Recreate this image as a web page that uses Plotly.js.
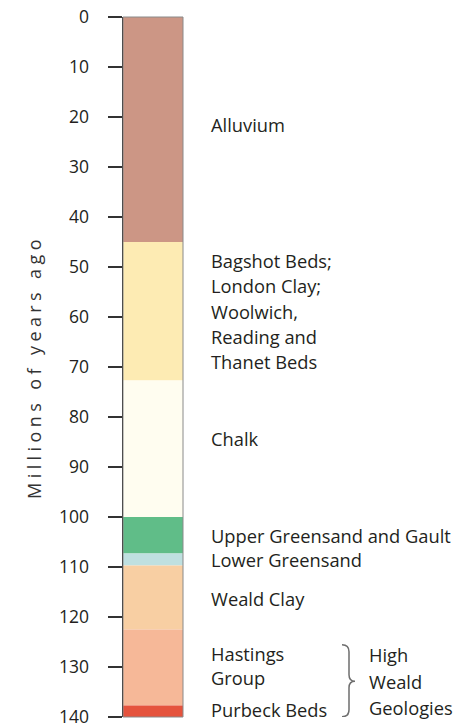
<!DOCTYPE html>
<html>
<head>
<meta charset="utf-8">
<script src="https://cdn.plot.ly/plotly-3.0.1.min.js"></script>
<style>
  html, body { margin: 0; padding: 0; background: #fff; }
  #chart { width: 460px; height: 728px; }
  .ytitle { letter-spacing: 4.4px; }
</style>
</head>
<body>
<div id="chart"></div>
<script>
// Geological layers (millions of years ago)
var layerNames  = ["Alluvium", "Bagshot Beds; London Clay; Woolwich, Reading and Thanet Beds", "Chalk",
                   "Upper Greensand and Gault", "Lower Greensand", "Weald Clay", "Hastings Group", "Purbeck Beds"];
var layerStart  = [0, 45, 72.7, 100, 107.3, 109.7, 122.5, 137.7];
var layerEnd    = [45, 72.7, 100, 107.3, 109.7, 122.5, 137.7, 140];
var layerColors = ["#cc9685", "#fdebb3", "#fffdf0", "#60bd88", "#bfe0e0", "#f8cfa3", "#f6b898", "#e5533d"];

var tickValues = [0, 10, 20, 30, 40, 50, 60, 70, 80, 90, 100, 110, 120, 130, 140];
var axisTitle = "Millions of years ago";

// label text lines
var labelLines = ["Alluvium",
                  "Bagshot Beds;", "London Clay;", "Woolwich,", "Reading and", "Thanet Beds",
                  "Chalk",
                  "Upper Greensand and Gault<br>Lower Greensand",
                  "Weald Clay",
                  "Hastings<br>Group",
                  "Purbeck Beds"];
var groupLines = ["High", "Weald", "Geologies"];

// ---- layout helpers (pixel placements) ----
var TOP = 17.3, PXPER = 5;
function pxToY(p) { return (p - TOP) / PXPER; }
var labelPx = [125, 261, 286, 311.5, 337, 362, 439, 548, 598.5, 666, 710];
var groupPx = [655, 681.5, 708];

var thickness = layerStart.map(function (s, i) { return layerEnd[i] - s; });

var trace = {
  type: "bar",
  x: layerStart.map(function () { return 0; }),
  y: thickness,
  base: layerStart,
  width: 1,
  marker: { color: layerColors, line: { width: 0 } },
  text: layerNames,
  hoverinfo: "text",
  textposition: "none"
};

var FONT = "Open Sans, Noto Sans, sans-serif";
var TXT = "#231f20";
var LSIZE = 18.3;
var annotations = [];
labelLines.forEach(function (t, i) {
  annotations.push({
    text: t, xref: "paper", yref: "y", x: (209 - 123) / 60, y: pxToY(labelPx[i]),
    xanchor: "left", yanchor: "middle", align: "left", showarrow: false,
    font: { family: FONT, size: LSIZE, color: TXT }
  });
});
groupLines.forEach(function (t, i) {
  annotations.push({
    text: t, xref: "paper", yref: "y", x: (367 - 123) / 60, y: pxToY(groupPx[i]),
    xanchor: "left", yanchor: "middle", showarrow: false,
    font: { family: FONT, size: LSIZE, color: TXT }
  });
});

function bx(p) { return (p - 123) / 60; }
var bTop = pxToY(645), bMid = pxToY(681.5), bBot = pxToY(717);
var bracePath =
  "M " + bx(342) + "," + bTop +
  " Q " + bx(349) + "," + bTop + " " + bx(349) + "," + pxToY(652) +
  " L " + bx(349) + "," + pxToY(675) +
  " Q " + bx(349) + "," + bMid + " " + bx(355) + "," + bMid +
  " Q " + bx(349) + "," + bMid + " " + bx(349) + "," + pxToY(688) +
  " L " + bx(349) + "," + pxToY(710) +
  " Q " + bx(349) + "," + bBot + " " + bx(342) + "," + bBot;

var layout = {
  width: 460, height: 728,
  margin: { l: 123, r: 277, t: 17, b: 11 },
  paper_bgcolor: "#ffffff", plot_bgcolor: "#ffffff",
  showlegend: false,
  barmode: "overlay",
  xaxis: { range: [-0.5, 0.5], visible: false, fixedrange: true },
  yaxis: {
    range: [140, 0], autorange: false,
    tickvals: tickValues, ticktext: tickValues.map(String),
    ticks: "outside", ticklen: 14, tickwidth: 1.6, tickcolor: "#333",
    ticklabelstandoff: 15, ticklabeloverflow: "allow",
    showline: true, linecolor: "#111", linewidth: 1.5,
    showgrid: false, zeroline: false,
    tickfont: { family: FONT, size: 17.5, color: TXT },
    title: { text: axisTitle, font: { family: FONT, size: 18, color: "#333" }, standoff: 12 },
    automargin: false, fixedrange: true
  },
  shapes: [
    { type: "rect", xref: "paper", yref: "paper", x0: 0, x1: 1, y0: 0, y1: 1,
      line: { color: "#8a8a8a", width: 1 }, fillcolor: "rgba(0,0,0,0)", layer: "above" },
    { type: "path", xref: "paper", yref: "y", path: bracePath,
      line: { color: "#6e6e6e", width: 1.5 }, fillcolor: "rgba(0,0,0,0)" }
  ],
  annotations: annotations
};

Plotly.newPlot("chart", [trace], layout, { displayModeBar: false, staticPlot: true });
</script>
</body>
</html>
